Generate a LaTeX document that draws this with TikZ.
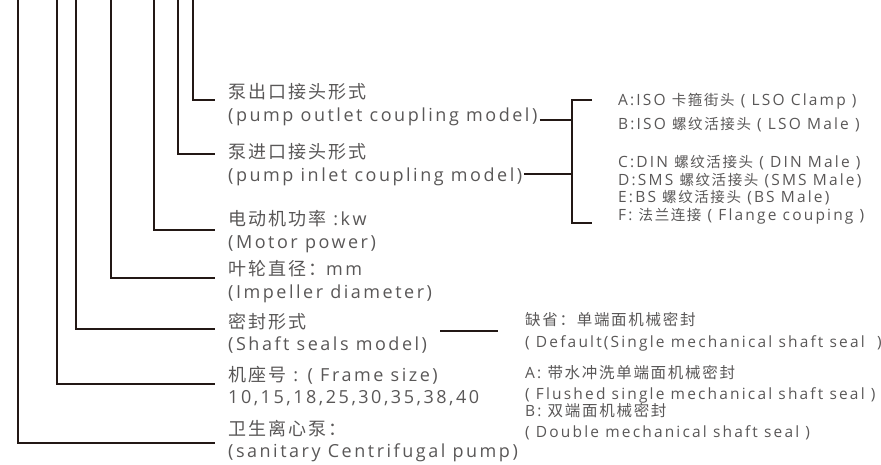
\documentclass[tikz,border=0pt]{standalone}
\usepackage{fontspec}
\setmainfont{Open Sans}[LetterSpace=14]
\newfontfamily\cjk{Noto Sans CJK SC}[LetterSpace=11]
\newcommand{\cjksm}{\cjk\fontsize{14.5}{19}\selectfont}
\usetikzlibrary{positioning}

\definecolor{txtgray}{HTML}{595757}
\definecolor{leadblack}{HTML}{231815}

\tikzset{
  lbl/.style={inner sep=0pt, anchor=base west, text=txtgray, font=\fontsize{18}{22}\selectfont},
  opt/.style={inner sep=0pt, anchor=base west, text=txtgray, font=\fontsize{15.5}{19}\selectfont},
  sealopt/.style={inner sep=0pt, anchor=base west, text=txtgray, font=\fontsize{15.5}{18}\selectfont},
  lead/.style={draw=leadblack, line width=1.3pt}
}

\begin{document}
\begin{tikzpicture}[x=1pt,y=-1pt]
  \useasboundingbox (0,0) rectangle (881,464);

  % model code positions, top ends
  \coordinate (topSan)    at (18,0);
  \coordinate (topFrame)  at (57,0);
  \coordinate (topSeal)   at (76,0);
  \coordinate (topImp)    at (111,0);
  \coordinate (topMotor)  at (154,0);
  \coordinate (topInlet)  at (178,0);
  \coordinate (topOutlet) at (193,0);

  % left labels
  \node[lbl] (outlet)   at (228,98)  {\cjk 泵出口接头形式};
  \node[lbl] (outletEn) at (228,121) {(pump outlet coupling model)};
  \node[lbl] (inlet)    at (228,158) {\cjk 泵进口接头形式};
  \node[lbl] (inletEn)  at (228,181) {(pump inlet coupling model)};
  \node[lbl] (motor)    at (228,225) {{\cjk 电动机功率} :kw};
  \node[lbl] (motorEn)  at (228,248) {(Motor power)};
  \node[lbl] (imp)      at (228,275) {{\cjk 叶轮直径：}mm};
  \node[lbl] (impEn)    at (228,298) {(Impeller diameter)};
  \node[lbl] (seal)     at (228,328) {\cjk 密封形式};
  \node[lbl] (sealEn)   at (228,350) {(Shaft seals model)};
  \node[lbl] (frame)    at (228,381) {{\cjk 机座号} : ( Frame size)};
  \node[lbl] (frameEn)  at (228,403) {10,15,18,25,30,35,38,40};
  \node[lbl] (san)      at (228,435) {\cjk 卫生离心泵：};
  \node[lbl] (sanEn)    at (228,457) {(sanitary Centrifugal pump)};

  % leaders
  \draw[lead] (topOutlet) |- ([xshift=-13pt,yshift=-2pt]outlet.base west);
  \draw[lead] (topInlet)  |- ([xshift=-13pt,yshift=4pt]inlet.base west);
  \draw[lead] (topMotor)  |- ([xshift=-13pt,yshift=-5pt]motor.base west);
  \draw[lead] (topImp)    |- ([xshift=-13pt,yshift=-3pt]imp.base west);
  \draw[lead] (topSeal)   |- ([xshift=-13pt,yshift=-1pt]seal.base west);
  \draw[lead] (topFrame)  |- ([xshift=-13pt,yshift=-3pt]frame.base west);
  \draw[lead] (topSan)    |- ([xshift=-13pt,yshift=-8pt]san.base west);

  % coupling options
  \coordinate (brTop) at (572,100);
  \coordinate (brBot) at (572,223);
  \coordinate (tickTop) at (592,100);
  \coordinate (tickBot) at (592,223);
  \draw[lead] (tickTop) -- (brTop) -- (brBot) -- (tickBot);
  \coordinate (outJoin) at ([xshift=2pt,yshift=1pt]outletEn.base east);
  \coordinate (inJoin)  at ([xshift=2pt,yshift=7pt]inletEn.base east);
  \draw[lead] (outJoin) -- (outJoin -| brTop);
  \draw[lead] (inJoin) -- (inJoin -| brTop);

  \node[opt] (optA) at (618,105) {A:ISO {\cjksm 卡箍街头} ( LSO Clamp )};
  \node[opt] (optB) at (618,129) {B:ISO {\cjksm 螺纹活接头} ( LSO Male )};
  \node[opt] (optC) at (618,167) {C:DIN {\cjksm 螺纹活接头} ( DIN Male )};
  \node[opt] (optD) at (618,185) {D:SMS {\cjksm 螺纹活接头} (SMS Male)};
  \node[opt] (optE) at (618,202) {E:BS {\cjksm 螺纹活接头} (BS Male)};
  \node[opt] (optF) at (618,220) {F: {\cjksm 法兰连接} ( Flange couping )};

  % seal options
  \coordinate (sealL) at (440,331);
  \coordinate (sealR) at (498,331);
  \draw[lead] (sealL) -- (sealR);

  \node[sealopt] (def)   at (525,325) {\cjk 缺省：单端面机械密封};
  \node[sealopt] (defEn) at (525,347) {( Default(Single mechanical shaft seal~ )};
  \node[sealopt] (sA)    at (525,378) {A: {\cjk 带水冲洗单端面机械密封}};
  \node[sealopt] (sAEn)  at (525,399) {( Flushed single mechanical shaft seal )};
  \node[sealopt] (sB)    at (525,416) {B: {\cjk 双端面机械密封}};
  \node[sealopt] (sBEn)  at (525,437) {( Double mechanical shaft seal )};
\end{tikzpicture}
\end{document}
